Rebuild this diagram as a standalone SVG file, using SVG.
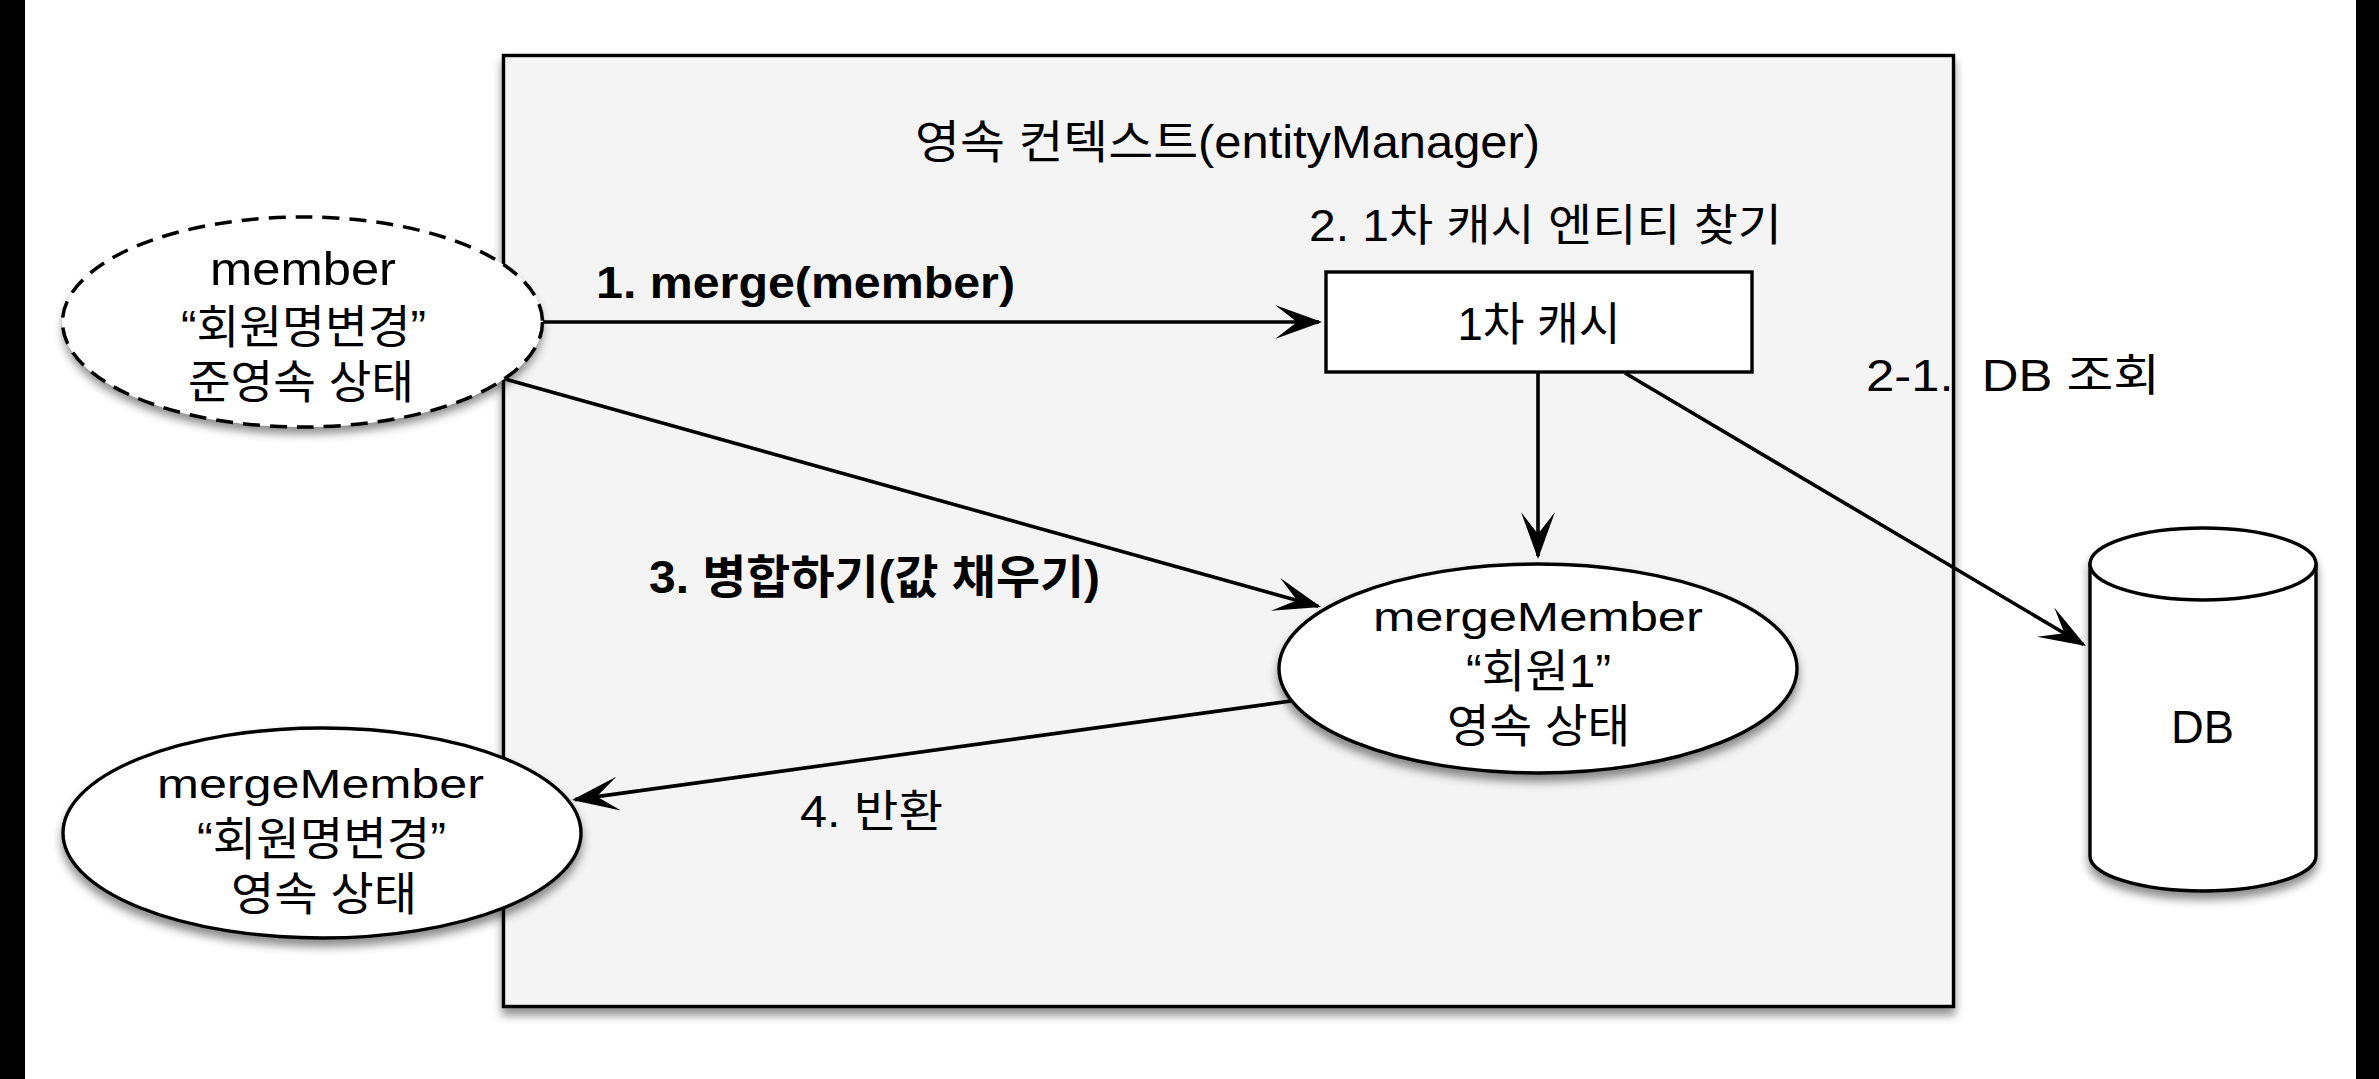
<svg xmlns="http://www.w3.org/2000/svg" width="2379" height="1079" viewBox="0 0 2379 1079">
<style>
.t{font-family:"Liberation Sans","Noto Sans CJK KR",sans-serif;fill:#000;text-anchor:middle}
.s{text-anchor:start}
.b{font-weight:bold}
.shape{fill:#fff;stroke:#000;stroke-width:3.4}
.conn{fill:none;stroke:#000;stroke-width:3.6}
</style>
<defs>
<filter id="sh" x="-10%" y="-10%" width="120%" height="130%">
<feDropShadow dx="0" dy="7" stdDeviation="5" flood-color="#000" flood-opacity="0.45"/>
</filter>
<marker id="ah" markerUnits="userSpaceOnUse" markerWidth="48" markerHeight="36" refX="44" refY="17" orient="auto">
<path d="M47,17 L0,0 L22,17 L0,34 Z" fill="#000"/>
</marker>
</defs>
<rect x="0" y="0" width="2379" height="1079" fill="#fff"/>
<rect x="0" y="0" width="25" height="1079" fill="#000"/>
<rect x="2356" y="0" width="23" height="1079" fill="#000"/>

<g id="context">
<rect x="503.5" y="55.5" width="1450" height="951" fill="#f4f4f4" stroke="#000" stroke-width="3.4" filter="url(#sh)"/>
<text class="t" x="1227.5" y="158" font-size="46" textLength="625" lengthAdjust="spacingAndGlyphs">영속 컨텍스트(entityManager)</text>
</g>

<g id="member">
<ellipse cx="302.5" cy="322" rx="240" ry="105" fill="#fff" filter="url(#sh)"/>
<ellipse cx="302.5" cy="322" rx="240" ry="105" fill="none" stroke="#000" stroke-width="3.5" stroke-dasharray="17 10"/>
<text class="t" x="303" y="285" font-size="46" textLength="186" lengthAdjust="spacingAndGlyphs">member</text>
<text class="t" x="303.5" y="343" font-size="46" textLength="245" lengthAdjust="spacingAndGlyphs">“회원명변경”</text>
<text class="t" x="301" y="398" font-size="46" textLength="226" lengthAdjust="spacingAndGlyphs">준영속 상태</text>
</g>

<g id="cache">
<text class="t" x="1545.5" y="241" font-size="44" textLength="473" lengthAdjust="spacingAndGlyphs">2. 1차 캐시 엔티티 찾기</text>
<rect x="1326" y="272" width="426" height="100" class="shape"/>
<text class="t" x="1539" y="340" font-size="46" textLength="163" lengthAdjust="spacingAndGlyphs">1차 캐시</text>
</g>

<g id="mergeMember">
<ellipse cx="1538" cy="668.5" rx="259" ry="104.5" class="shape" filter="url(#sh)"/>
<text class="t" x="1538" y="630.5" font-size="40" textLength="330" lengthAdjust="spacingAndGlyphs">mergeMember</text>
<text class="t" x="1538.5" y="687" font-size="46" textLength="145" lengthAdjust="spacingAndGlyphs">“회원1”</text>
<text class="t" x="1538.5" y="742" font-size="46" textLength="183" lengthAdjust="spacingAndGlyphs">영속 상태</text>
</g>

<g id="returned">
<ellipse cx="322" cy="833" rx="259" ry="105" class="shape" filter="url(#sh)"/>
<text class="t" x="320.5" y="798" font-size="40" textLength="327" lengthAdjust="spacingAndGlyphs">mergeMember</text>
<text class="t" x="321.5" y="854.5" font-size="46" textLength="249" lengthAdjust="spacingAndGlyphs">“회원명변경”</text>
<text class="t" x="324" y="909.5" font-size="46" textLength="186" lengthAdjust="spacingAndGlyphs">영속 상태</text>
</g>

<g id="db">
<g filter="url(#sh)">
<path d="M2090,564 L2090,856 A113,35 0 0 0 2316,856 L2316,564 Z" class="shape"/>
<ellipse cx="2203" cy="564" rx="113" ry="36" class="shape"/>
</g>
<text class="t" x="2202.5" y="743" font-size="46" textLength="63" lengthAdjust="spacingAndGlyphs">DB</text>
</g>

<g id="connectors">
<path class="conn" d="M543,322 L1319,322" marker-end="url(#ah)"/>
<path class="conn" d="M1538,372 L1538,556" marker-end="url(#ah)"/>
<path class="conn" d="M505,379 L1318.1,606.2" marker-end="url(#ah)"/>
<path class="conn" d="M1625,373 L2083.4,644.5" marker-end="url(#ah)"/>
<path class="conn" d="M1291,701 L575,799.6" marker-end="url(#ah)"/>
<text class="t s b" x="596" y="298" font-size="44" textLength="419" lengthAdjust="spacingAndGlyphs">1. merge(member)</text>
<text class="t s" x="1866" y="391" font-size="44" textLength="294" lengthAdjust="spacingAndGlyphs" xml:space="preserve">2-1.  DB 조회</text>
<text class="t s b" x="649" y="593" font-size="46" textLength="451" lengthAdjust="spacingAndGlyphs">3. 병합하기(값 채우기)</text>
<text class="t s" x="800" y="827" font-size="44" textLength="143" lengthAdjust="spacingAndGlyphs">4. 반환</text>
</g>
</svg>
